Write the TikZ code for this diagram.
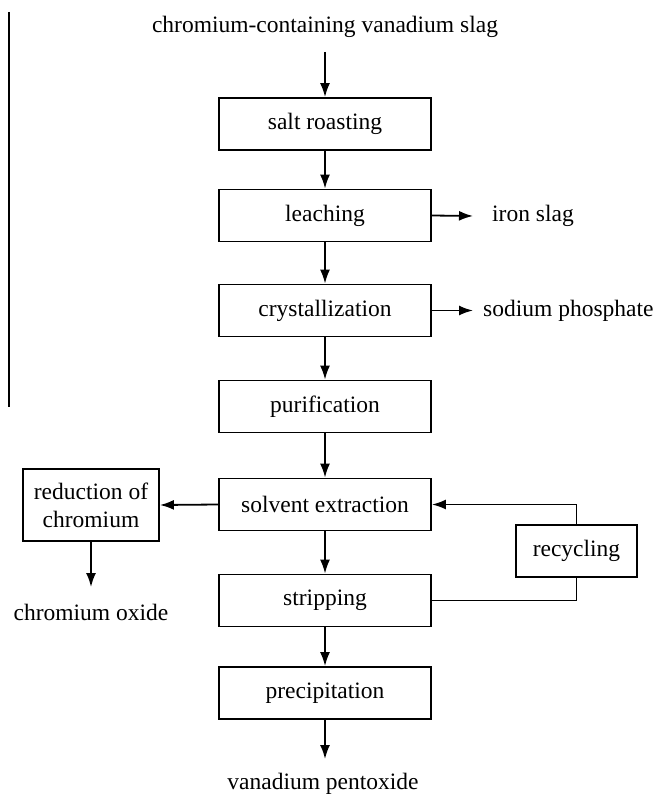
\documentclass[tikz,border=0pt]{standalone}
\usepackage{fontspec}
\setmainfont{Liberation Serif}
\usetikzlibrary{arrows.meta}
\begin{document}
\begin{tikzpicture}[x=1pt,y=-1pt,
  every node/.style={font=\fontsize{23.5}{28}\selectfont},
  stepbox/.style={draw, line width=1.8pt, minimum width=212pt, minimum height=52pt, inner sep=0pt},
  txt/.style={inner sep=2pt},
  conn/.style={line width=1.8pt, -{Latex[length=14pt,width=10pt]}},
  plain/.style={line width=1.8pt}]
\useasboundingbox (0,0) rectangle (656,794);
% left margin line
\coordinate (lt) at (9,12);
\coordinate (lb) at (9,407);
\draw[plain] (lt) -- (lb);
% main chain
\node[txt] (src) at (325,27) {chromium-containing vanadium slag};
\node[stepbox] (salt) at (325,124) {salt roasting};
\node[stepbox] (leach) at (325,215.5) {leaching};
\node[stepbox] (cryst) at (325,310.5) {crystallization};
\node[stepbox] (purif) at (325,406.5) {purification};
\node[stepbox] (solv) at (325,504.5) {solvent extraction};
\node[stepbox] (strip) at (325,600.5) {stripping};
\node[stepbox] (prec) at (325,693) {precipitation};
\node[txt] (vp) at (323,784) {vanadium pentoxide};
% side nodes
\node[txt, anchor=west] (iron) at (490,216) {iron slag};
\node[txt, anchor=west] (sodium) at (481,310.5) {sodium phosphate};
\node[stepbox, minimum width=136pt, minimum height=72pt, align=center] (red) at (91,505) {reduction of\\chromium};
\node[txt] (oxide) at (91,612) {chromium oxide};
\node[stepbox, minimum width=121pt] (rec) at (576.5,551) {recycling};
% arrow end points
\coordinate (srcout) at (325,52);
\coordinate (ironin) at (473,216);
\coordinate (sodin) at (473,310.5);
\coordinate (oxin) at (91,587);
\coordinate (vpin) at (325,759);
% connectors
\draw[conn] (srcout) -- (salt.north);
\draw[conn] (salt) -- (leach);
\draw[conn] (leach) -- (cryst);
\draw[conn] (cryst) -- (purif);
\draw[conn] (purif) -- (solv);
\draw[conn] (solv) -- (strip);
\draw[conn] (strip) -- (prec);
\draw[conn] (prec.south) -- (vpin);
\draw[conn] (leach.east) -- (ironin);
\draw[conn] (cryst.east) -- (sodin);
\draw[conn] (solv.west) -- (red.east);
\draw[conn] (red.south) -- (oxin);
\draw[conn] (rec.north) |- (solv.east);
\draw[plain] (strip.east) -| (rec.south);
\end{tikzpicture}
\end{document}
